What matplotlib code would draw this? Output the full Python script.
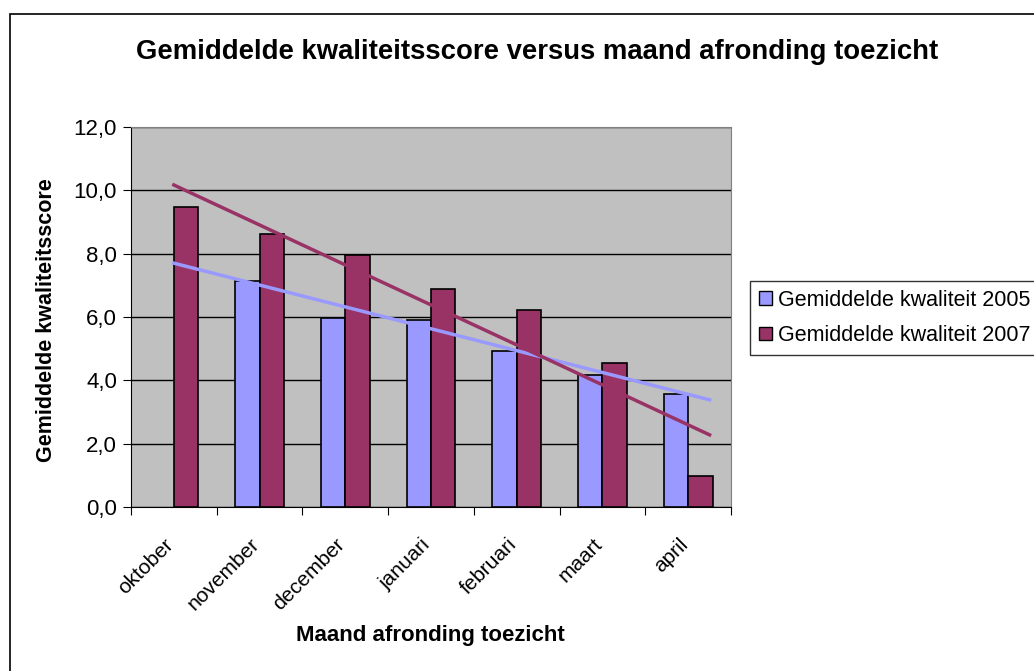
import numpy as np
import matplotlib.pyplot as plt
from matplotlib.patches import Patch, Rectangle
from matplotlib.ticker import FuncFormatter
from matplotlib.transforms import ScaledTranslation

plt.rcParams['font.family'] = ['Liberation Sans', 'DejaVu Sans']

months = ["oktober", "november", "december", "januari", "februari", "maart", "april"]
kwaliteit_2005 = [np.nan, 7.15, 5.96, 5.90, 4.93, 4.18, 3.58]
kwaliteit_2007 = [9.47, 8.62, 7.96, 6.87, 6.22, 4.55, 0.98]
series_names = ["Gemiddelde kwaliteit 2005", "Gemiddelde kwaliteit 2007"]

blue = "#9999FF"
maroon = "#993366"

fig = plt.figure(figsize=(10.34, 6.71), dpi=100)
# outer chart frame (clipped on the right/bottom like the original)
fig.patches.append(Rectangle((10 / 1034, -0.1), 1.2, 1 - 14 / 671 + 0.1,
                             transform=fig.transFigure, fill=False,
                             edgecolor="black", linewidth=1.2))

ax = fig.add_axes([131 / 1034, 1 - 507 / 671, 600 / 1034, 380 / 671])
ax.set_facecolor("#C0C0C0")

x = np.arange(len(months))
w = 1 / 3.5
ax.bar(x - w / 2, kwaliteit_2005, w, color=blue, edgecolor="black", linewidth=1.2, zorder=3)
ax.bar(x + w / 2, kwaliteit_2007, w, color=maroon, edgecolor="black", linewidth=1.2, zorder=3)

# linear trendlines (forward forecast 0.25 period, as in the source)
xt = np.array([0, len(months) - 1 + 0.25])
for vals, col in [(kwaliteit_2005, blue), (kwaliteit_2007, maroon)]:
    v = np.array(vals, dtype=float)
    m = ~np.isnan(v)
    k, b = np.polyfit(x[m], v[m], 1)
    ax.plot(xt, k * xt + b, color=col, linewidth=2.5, zorder=4)

ax.set_xlim(-0.5, len(months) - 0.5)
ax.set_ylim(0, 12)
ax.set_yticks(np.arange(0, 12.1, 2))
ax.yaxis.set_major_formatter(FuncFormatter(lambda v, p: f"{v:.1f}".replace(".", ",")))
ax.grid(axis="y", color="black", linewidth=1, zorder=0)
ax.set_axisbelow(True)

ax.set_xticks(np.arange(-0.5, len(months), 1))
ax.set_xticklabels([])
ax.set_xticks(x, minor=True)
ax.set_xticklabels(months, minor=True, rotation=45, ha="right", va="top",
                   rotation_mode="anchor", fontsize=15)
ax.tick_params(axis="x", which="minor", length=0, pad=20)
ax.tick_params(axis="x", which="major", length=6, direction="out")
ax.tick_params(axis="y", length=6, labelsize=16, pad=4)
shift = ScaledTranslation(-10 / 100, 0, fig.dpi_scale_trans)
for lab in ax.get_xticklabels(minor=True):
    lab.set_transform(lab.get_transform() + shift)

for s in ["top", "right"]:
    ax.spines[s].set_color("#808080")
for s in ["left", "bottom"]:
    ax.spines[s].set_color("black")

fig.text(47 / 1034, 1 - 320 / 671, "Gemiddelde kwaliteitsscore", fontsize=15.5,
         fontweight="bold", ha="center", va="center", rotation=90)
fig.text(430 / 1034, 1 - 635 / 671, "Maand afronding toezicht", fontsize=16,
         fontweight="bold", ha="center", va="center")
fig.text(537 / 1034, 1 - 52 / 671, "Gemiddelde kwaliteitsscore versus maand afronding toezicht",
         fontsize=19.8, fontweight="bold", ha="center", va="center")

handles = [Patch(facecolor=blue, edgecolor="black"), Patch(facecolor=maroon, edgecolor="black")]
fig.legend(handles, series_names, loc="upper left", bbox_to_anchor=(750 / 1034, 1 - 281 / 671),
           fontsize=15.5, frameon=True, fancybox=False, edgecolor="black",
           handlelength=0.6, handleheight=0.6, handletextpad=0.3, borderaxespad=0,
           labelspacing=0.68, borderpad=0.4)

fig.savefig("out.png", dpi=100, facecolor="white")
